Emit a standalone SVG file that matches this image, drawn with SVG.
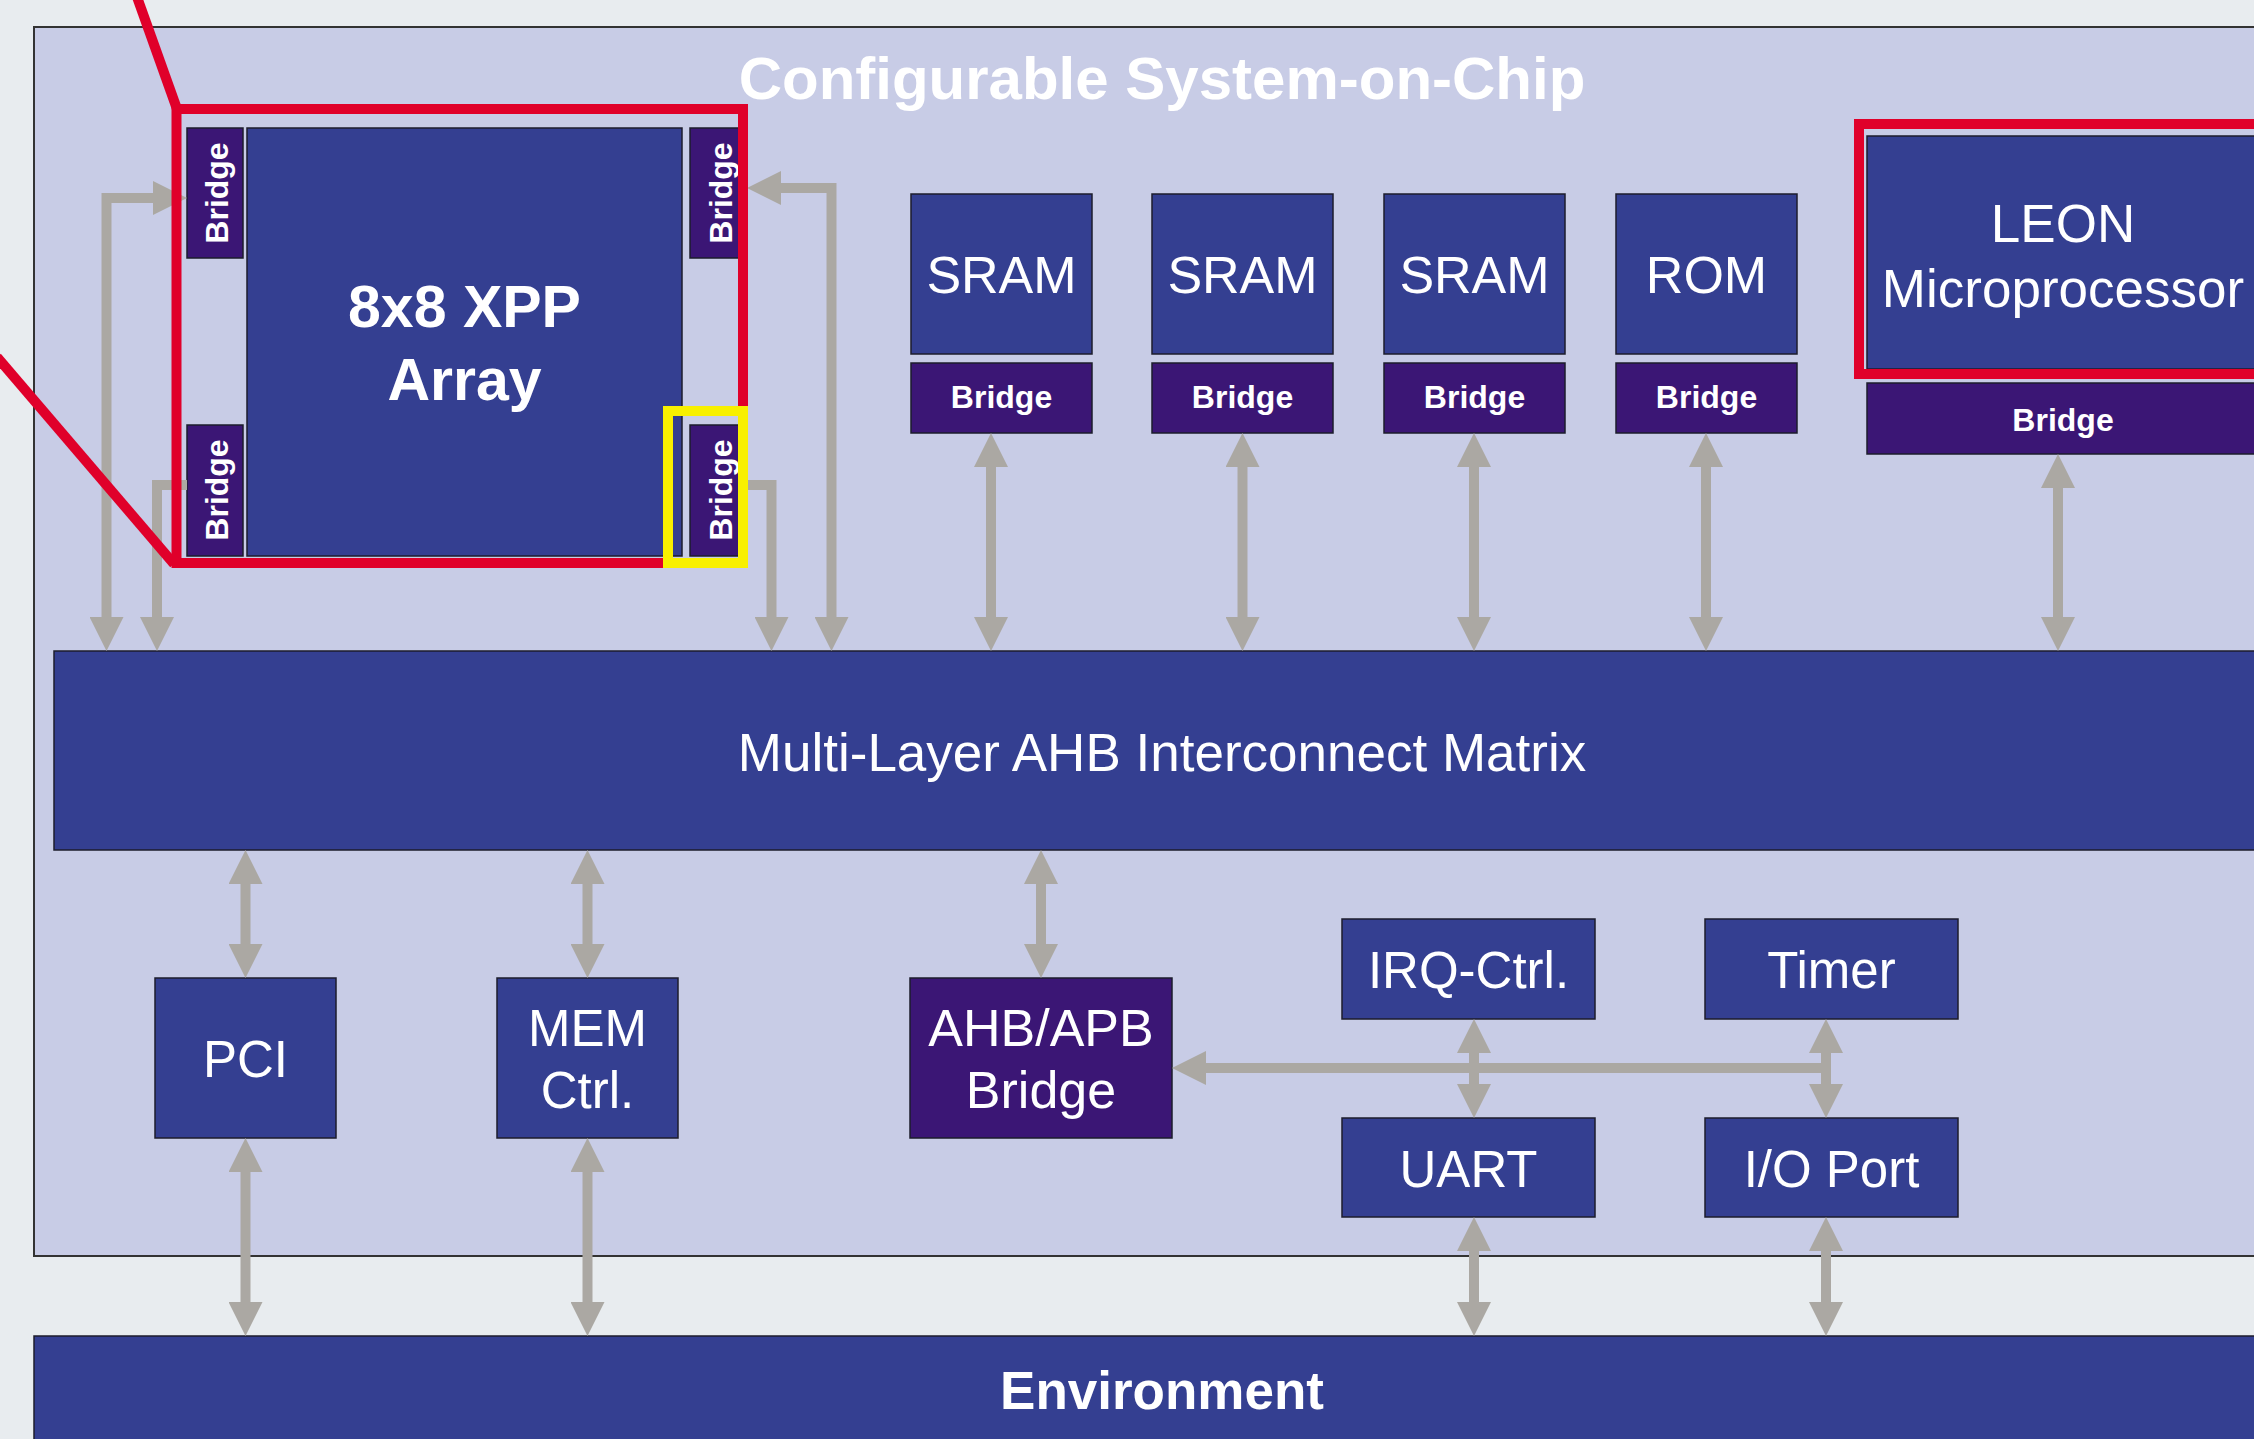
<svg xmlns="http://www.w3.org/2000/svg" width="2254" height="1439" viewBox="0 0 2254 1439">
<style>
.blk{fill:#343f91;stroke:#1c1c2c;stroke-width:1.5}
.brg{fill:#3b1675;stroke:#1c1c2c;stroke-width:1.5}
.t{font-family:"Liberation Sans",Arial,sans-serif;fill:#ffffff;text-anchor:middle}
.reg{font-size:52px}
.bold{font-weight:bold}
.bt{font-family:"Liberation Sans",Arial,sans-serif;fill:#ffffff;text-anchor:middle;font-weight:bold;font-size:32px}
.conn{fill:none;stroke:#aba8a3;stroke-width:10}
.red{fill:none;stroke:#e0002a;stroke-width:10}
</style>
<defs>
<marker id="ah" viewBox="0 0 34 34" refX="0" refY="17" markerWidth="34" markerHeight="34" markerUnits="userSpaceOnUse" orient="auto-start-reverse"><path d="M0,0 L34,17 L0,34 z" fill="#aba8a3"/></marker>
</defs>
<rect x="0" y="0" width="2254" height="1439" fill="#e8ecef"/>
<g id="soc">
<rect x="34" y="27" width="2240" height="1229" fill="#c8cce6" stroke="#333" stroke-width="2"/>
<text class="t bold" x="1162" y="99" font-size="60">Configurable System-on-Chip</text>
</g>
<g id="environment">
<rect class="blk" x="34" y="1336" width="2240" height="120"/>
<text class="t bold" x="1162" y="1409" font-size="53">Environment</text>
</g>
<g id="ahb">
<rect class="blk" x="54" y="651" width="2220" height="199"/>
<text class="t" x="1162" y="771" font-size="53">Multi-Layer AHB Interconnect Matrix</text>
</g>
<g id="xpp">
<rect class="blk" x="247" y="128" width="435" height="428"/>
<text class="t bold" x="464.5" y="327" font-size="59">8x8 XPP</text>
<text class="t bold" x="464.5" y="400" font-size="59">Array</text>
</g>
<g id="xpp-bridge-lt"><rect class="brg" x="187" y="128" width="56" height="130"/><text class="bt" transform="translate(228,193) rotate(-90)">Bridge</text></g>
<g id="xpp-bridge-lb"><rect class="brg" x="187" y="425" width="56" height="131"/><text class="bt" transform="translate(228,490) rotate(-90)">Bridge</text></g>
<g id="xpp-bridge-rt"><rect class="brg" x="690" y="128" width="56" height="130"/><text class="bt" transform="translate(732,193) rotate(-90)">Bridge</text></g>
<g id="xpp-bridge-rb"><rect class="brg" x="690" y="425" width="56" height="131"/><text class="bt" transform="translate(732,490) rotate(-90)">Bridge</text></g>
<g id="sram1"><rect class="blk" x="911" y="194" width="181" height="160"/><text class="t reg" x="1001.5" y="293">SRAM</text></g>
<g id="sram1-bridge"><rect class="brg" x="911" y="363" width="181" height="70"/><text class="bt" x="1001.5" y="408">Bridge</text></g>
<g id="sram2"><rect class="blk" x="1152" y="194" width="181" height="160"/><text class="t reg" x="1242.5" y="293">SRAM</text></g>
<g id="sram2-bridge"><rect class="brg" x="1152" y="363" width="181" height="70"/><text class="bt" x="1242.5" y="408">Bridge</text></g>
<g id="sram3"><rect class="blk" x="1384" y="194" width="181" height="160"/><text class="t reg" x="1474.5" y="293">SRAM</text></g>
<g id="sram3-bridge"><rect class="brg" x="1384" y="363" width="181" height="70"/><text class="bt" x="1474.5" y="408">Bridge</text></g>
<g id="rom"><rect class="blk" x="1616" y="194" width="181" height="160"/><text class="t reg" x="1706.5" y="293">ROM</text></g>
<g id="rom-bridge"><rect class="brg" x="1616" y="363" width="181" height="70"/><text class="bt" x="1706.5" y="408">Bridge</text></g>
<g id="leon"><rect class="blk" x="1867" y="136" width="400" height="233"/><text class="t" x="2063" y="242" font-size="53">LEON</text><text class="t" x="2063" y="307" font-size="53">Microprocessor</text></g>
<g id="leon-bridge"><rect class="brg" x="1867" y="383" width="400" height="71"/><text class="bt" x="2063" y="431">Bridge</text></g>
<g id="pci"><rect class="blk" x="155" y="978" width="181" height="160"/><text class="t" x="245.5" y="1077" font-size="51">PCI</text></g>
<g id="memctrl"><rect class="blk" x="497" y="978" width="181" height="160"/><text class="t" x="587.5" y="1046" font-size="51">MEM</text><text class="t" x="587.5" y="1108" font-size="51">Ctrl.</text></g>
<g id="ahbapb"><rect class="brg" x="910" y="978" width="262" height="160"/><text class="t" x="1041" y="1046" font-size="52">AHB/APB</text><text class="t" x="1041" y="1108" font-size="52">Bridge</text></g>
<g id="irq"><rect class="blk" x="1342" y="919" width="253" height="100"/><text class="t" x="1468.5" y="988" font-size="51">IRQ-Ctrl.</text></g>
<g id="timer"><rect class="blk" x="1705" y="919" width="253" height="100"/><text class="t" x="1831.5" y="988" font-size="51">Timer</text></g>
<g id="uart"><rect class="blk" x="1342" y="1118" width="253" height="99"/><text class="t" x="1468.5" y="1187" font-size="51">UART</text></g>
<g id="ioport"><rect class="blk" x="1705" y="1118" width="253" height="99"/><text class="t" x="1831.5" y="1187" font-size="51">I/O Port</text></g>
<g id="connectors">
<path class="conn" d="M106.5,617 V198 H153" marker-start="url(#ah)" marker-end="url(#ah)"/>
<path class="conn" d="M187,485 H157 V617" marker-end="url(#ah)"/>
<path class="conn" d="M746,485 H771.5 V617" marker-end="url(#ah)"/>
<path class="conn" d="M831.5,617 V188 H781" marker-start="url(#ah)" marker-end="url(#ah)"/>
<path class="conn" d="M991,467 V617" marker-start="url(#ah)" marker-end="url(#ah)"/>
<path class="conn" d="M1242.5,467 V617" marker-start="url(#ah)" marker-end="url(#ah)"/>
<path class="conn" d="M1474,467 V617" marker-start="url(#ah)" marker-end="url(#ah)"/>
<path class="conn" d="M1706,467 V617" marker-start="url(#ah)" marker-end="url(#ah)"/>
<path class="conn" d="M2058,488 V617" marker-start="url(#ah)" marker-end="url(#ah)"/>
<path class="conn" d="M245.5,884 V944" marker-start="url(#ah)" marker-end="url(#ah)"/>
<path class="conn" d="M587.5,884 V944" marker-start="url(#ah)" marker-end="url(#ah)"/>
<path class="conn" d="M1041,884 V944" marker-start="url(#ah)" marker-end="url(#ah)"/>
<path class="conn" d="M245.5,1172 V1302" marker-start="url(#ah)" marker-end="url(#ah)"/>
<path class="conn" d="M587.5,1172 V1302" marker-start="url(#ah)" marker-end="url(#ah)"/>
<path class="conn" d="M1474,1053 V1084" marker-start="url(#ah)" marker-end="url(#ah)"/>
<path class="conn" d="M1826,1053 V1084" marker-start="url(#ah)" marker-end="url(#ah)"/>
<path class="conn" d="M1831,1068 H1206" marker-end="url(#ah)"/>
<path class="conn" d="M1474,1251 V1302" marker-start="url(#ah)" marker-end="url(#ah)"/>
<path class="conn" d="M1826,1251 V1302" marker-start="url(#ah)" marker-end="url(#ah)"/>
</g>
<g id="highlights">
<line class="red" x1="137" y1="-3" x2="177" y2="109"/>
<line class="red" x1="-3" y1="357" x2="174" y2="564"/>
<rect class="red" x="176.5" y="109" width="566.5" height="454"/>
<rect class="red" x="1859" y="124" width="420" height="250"/>
<rect x="668" y="411" width="75" height="152" fill="none" stroke="#f8f000" stroke-width="10"/>
</g>
</svg>
